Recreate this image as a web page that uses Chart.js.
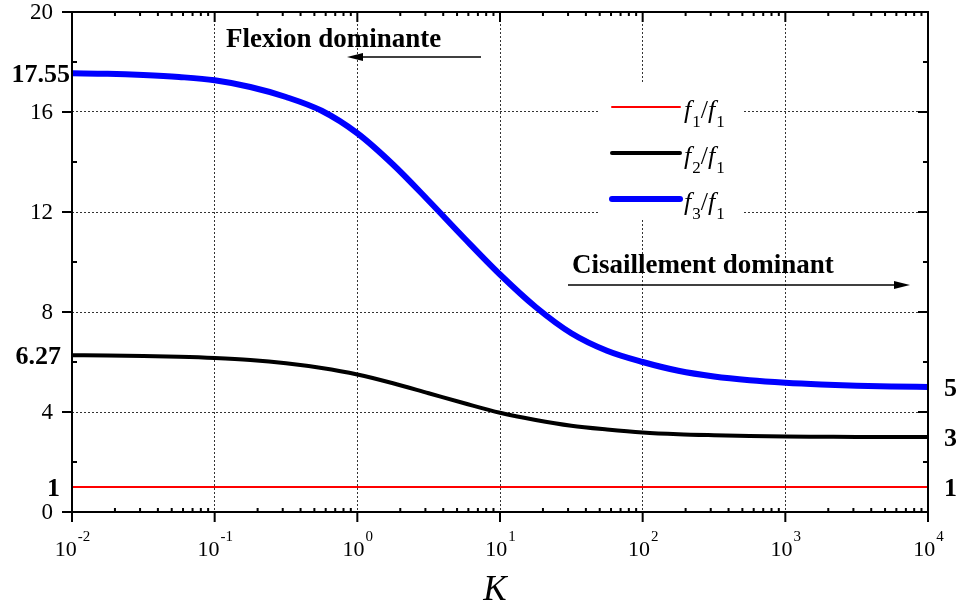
<!DOCTYPE html>
<html><head><meta charset="utf-8">
<script src="https://cdn.jsdelivr.net/npm/chart.js@4/dist/chart.umd.min.js"></script>
<style>html,body{margin:0;padding:0;background:#fff}#wrap{width:956px;height:609px;position:relative}</style>
</head><body><div id="wrap"><canvas id="c"></canvas></div>
<script>
// ---- data ----
const K  = [0.01, 0.01778, 0.03162, 0.05623, 0.1, 0.1778, 0.3162, 0.5623, 1, 1.778, 3.162, 5.623, 10, 17.78, 31.62, 56.23, 100, 177.8, 316.2, 562.3, 1000, 1778, 3162, 5623, 10000];
const f1 = [1, 1, 1, 1, 1, 1, 1, 1, 1, 1, 1, 1, 1, 1, 1, 1, 1, 1, 1, 1, 1, 1, 1, 1, 1];
const f2 = [6.27, 6.26, 6.24, 6.21, 6.16, 6.08, 5.95, 5.76, 5.5, 5.15, 4.75, 4.35, 3.97, 3.68, 3.45, 3.3, 3.18, 3.11, 3.07, 3.04, 3.02, 3.01, 3.0, 3.0, 3.0];
const f3 = [17.55, 17.53, 17.48, 17.4, 17.27, 17.0, 16.6, 16.05, 15.15, 13.9, 12.45, 10.95, 9.5, 8.2, 7.15, 6.45, 6.0, 5.65, 5.42, 5.27, 5.17, 5.1, 5.05, 5.02, 5.0];
const seriesSub = ['1', '2', '3'];
const xTickExps = [-2, -1, 0, 1, 2, 3, 4];
const yTicks = [0, 4, 8, 12, 16, 20];
const yMinor = [2, 6, 10, 14, 18];
const leftMarkValues = [17.55, 6.27, 1];
const leftMarkLabels = ['17.55', '6.27', '1'];
const rightMarkValues = [5, 3, 1];
const rightMarkLabels = ['5', '3', '1'];
const xTitle = 'K';
const noteLeft = 'Flexion dominante';
const noteRight = 'Cisaillement dominant';

const colors = ['#ff0000', '#000000', '#0000ff'];
const widths = [2, 4, 6];
const series = [f1, f2, f3];

const datasets = series.map((s, i) => ({
  label: 'f' + seriesSub[i] + '/f1',
  data: K.map((k, j) => ({x: k, y: s[j]})),
  borderColor: colors[i], backgroundColor: colors[i],
  borderWidth: widths[i], pointRadius: 0, cubicInterpolationMode: 'monotone',
  fill: false, order: 3 - i
}));

const SERIF = '"Liberation Serif", "Times New Roman", serif';

function arrow(ctx, x1, y, x2) {
  ctx.save();
  ctx.strokeStyle = '#000'; ctx.fillStyle = '#000'; ctx.lineWidth = 1.5;
  const dir = Math.sign(x2 - x1);
  ctx.beginPath(); ctx.moveTo(x1, y); ctx.lineTo(x2 - dir * 12, y); ctx.stroke();
  ctx.beginPath(); ctx.moveTo(x2, y); ctx.lineTo(x2 - dir * 16, y - 4); ctx.lineTo(x2 - dir * 16, y + 4); ctx.closePath(); ctx.fill();
  ctx.restore();
}

const deco = {
  id: 'deco',
  afterDraw(chart) {
    const ctx = chart.ctx, xs = chart.scales.x, ys = chart.scales.y, a = chart.chartArea;
    ctx.save();
    // frame
    ctx.strokeStyle = '#000'; ctx.lineWidth = 2;
    ctx.strokeRect(a.left, a.top, a.right - a.left, a.bottom - a.top);
    ctx.beginPath();
    yTicks.forEach(v => {
      const p = ys.getPixelForValue(v);
      ctx.moveTo(a.left - 10, p); ctx.lineTo(a.left, p);
      ctx.moveTo(a.right - 10, p); ctx.lineTo(a.right, p);
    });
    yMinor.forEach(v => {
      const p = ys.getPixelForValue(v);
      ctx.moveTo(a.left, p); ctx.lineTo(a.left + 5, p);
      ctx.moveTo(a.right - 5, p); ctx.lineTo(a.right, p);
    });
    xTickExps.forEach((e, i) => {
      const p = xs.getPixelForValue(Math.pow(10, e));
      ctx.moveTo(p, a.bottom); ctx.lineTo(p, a.bottom + 10);
      ctx.moveTo(p, a.top); ctx.lineTo(p, a.top + 10);
      if (i < xTickExps.length - 1) {
        for (let m = 2; m <= 9; m++) {
          const q = xs.getPixelForValue(m * Math.pow(10, e));
          ctx.moveTo(q, a.bottom); ctx.lineTo(q, a.bottom - 4);
          ctx.moveTo(q, a.top); ctx.lineTo(q, a.top + 4);
        }
      }
    });
    ctx.stroke();

    ctx.fillStyle = '#000';
    // y tick labels
    ctx.font = '23px ' + SERIF; ctx.textAlign = 'right'; ctx.textBaseline = 'middle';
    yTicks.forEach(v => ctx.fillText(String(v), a.left - 19, ys.getPixelForValue(v) + 1));

    // x tick labels with superscripts
    ctx.textBaseline = 'alphabetic';
    xTickExps.forEach(e => {
      const p = xs.getPixelForValue(Math.pow(10, e));
      ctx.font = '22px ' + SERIF;
      const w1 = ctx.measureText('10').width;
      ctx.font = '15px ' + SERIF;
      const es = e < 0 ? '-' + (-e) : String(e);
      const w2 = ctx.measureText(es).width;
      const x0 = p - (w1 + w2) / 2;
      ctx.font = '22px ' + SERIF; ctx.textAlign = 'left';
      ctx.fillText('10', x0, 556);
      ctx.font = '15px ' + SERIF;
      ctx.fillText(es, x0 + w1 + 1, 541);
    });

    // x title
    ctx.font = 'italic 35px ' + SERIF; ctx.textAlign = 'center';
    ctx.fillText(xTitle, (a.left + a.right) / 2 - 5, 600);

    // bold marks
    ctx.font = 'bold 26px ' + SERIF; ctx.textBaseline = 'middle';
    ctx.textAlign = 'right';
    const lx = [70, 61, 60];
    leftMarkValues.forEach((v, i) => ctx.fillText(leftMarkLabels[i], lx[i], ys.getPixelForValue(v) + 2));
    ctx.textAlign = 'left';
    rightMarkValues.forEach((v, i) => ctx.fillText(rightMarkLabels[i], a.right + 16, ys.getPixelForValue(v) + 2));

    // annotations
    ctx.font = 'bold 27px ' + SERIF; ctx.textBaseline = 'alphabetic';
    ctx.fillText(noteLeft, 226, 47);
    arrow(ctx, 481, 57, 347);
    ctx.fillText(noteRight, 572, 273);
    arrow(ctx, 568, 285, 910);

    // legend
    ctx.fillStyle = '#fff';
    ctx.fillRect(598, 84, 146, 136);
    const rows = [107, 153, 199];
    datasets.forEach((d, i) => {
      const y = rows[i];
      ctx.strokeStyle = d.borderColor; ctx.lineWidth = d.borderWidth; ctx.lineCap = 'round';
      ctx.beginPath(); ctx.moveTo(612, y); ctx.lineTo(680, y); ctx.stroke();
      ctx.fillStyle = '#000';
      let x = 684; const base = y + 11;
      ctx.font = 'italic 26px ' + SERIF; ctx.fillText('f', x, base); x += ctx.measureText('f').width + 1;
      ctx.font = '17px ' + SERIF; ctx.fillText(seriesSub[i], x, base + 9); x += ctx.measureText(seriesSub[i]).width;
      ctx.font = '26px ' + SERIF; ctx.fillText('/', x, base); x += ctx.measureText('/').width;
      ctx.font = 'italic 26px ' + SERIF; ctx.fillText('f', x, base); x += ctx.measureText('f').width + 1;
      ctx.font = '17px ' + SERIF; ctx.fillText('1', x, base + 9);
    });
    ctx.restore();
  }
};

new Chart(document.getElementById('c'), {
  type: 'line',
  data: { datasets },
  options: {
    responsive: true, maintainAspectRatio: false, animation: false,
    layout: { padding: { top: 12, right: 28, left: 0, bottom: 0 } },
    plugins: { legend: { display: false }, tooltip: { enabled: false } },
    scales: {
      x: {
        type: 'logarithmic', min: 0.01, max: 10000,
        afterBuildTicks: s => { s.ticks = xTickExps.map(e => ({ value: Math.pow(10, e) })); },
        afterFit: s => { s.height = 97; },
        ticks: { display: false },
        grid: { color: '#333', lineWidth: 1, drawTicks: false },
        border: { display: false, dash: [2, 2] }
      },
      y: {
        min: 0, max: 20,
        afterBuildTicks: s => { s.ticks = yTicks.map(v => ({ value: v })); },
        afterFit: s => { s.width = 72; },
        ticks: { display: false },
        grid: { color: '#333', lineWidth: 1, drawTicks: false },
        border: { display: false, dash: [2, 2] }
      }
    }
  },
  plugins: [deco]
});
</script>
</body></html>
